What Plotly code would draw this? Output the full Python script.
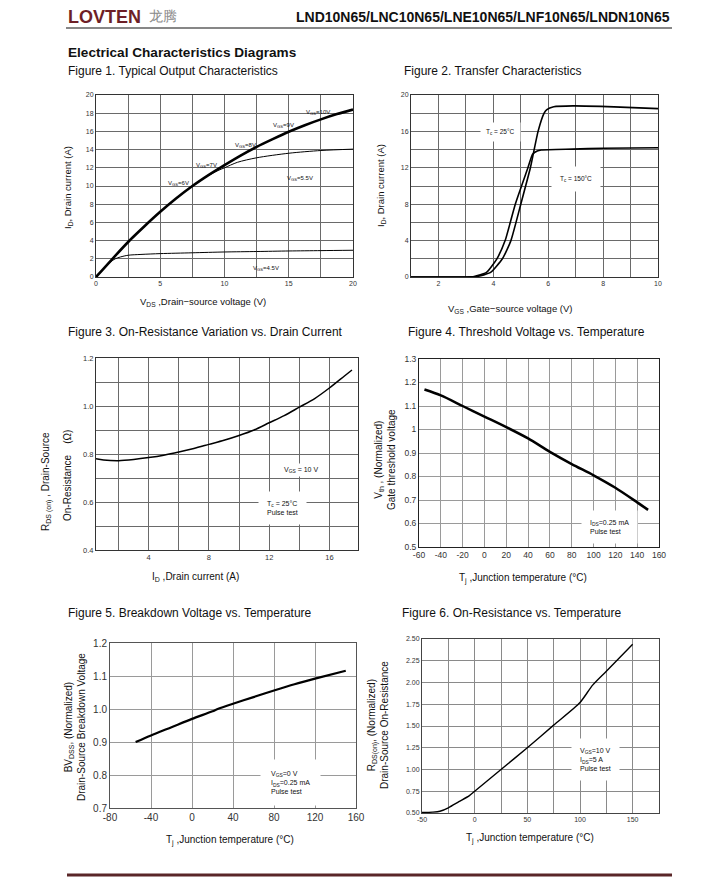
import plotly.graph_objects as go

W, H = 706, 873          # page body has an 8px margin; figure fills the rest of the window
OFF = 8                  # body margin offset (px)
FONT = "Liberation Sans, Arial, sans-serif"

# ---------------- data ----------------
# Figure 1: output characteristics
f1_vds_main = [0, 1.25, 2.5, 3.75, 5, 6.25, 7.5, 8.75, 10, 11.25, 12.5, 13.75, 15, 16.25, 17.5, 18.75, 20]
f1_id_main = [0, 1.95, 3.85, 5.55, 7.16, 8.65, 10.0, 11.2, 12.3, 13.35, 14.3, 15.15, 15.96, 16.68, 17.32, 17.9, 18.4]
f1_vds_55 = [0, 1.25, 2.5, 3.75, 5, 6.25, 7.5, 8.75, 9.5, 10, 11, 12.5, 15, 17.5, 20]
f1_id_55 = [0, 1.95, 3.85, 5.55, 7.16, 8.65, 10.0, 11.15, 11.7, 12.0, 12.6, 13.1, 13.6, 13.9, 14.05]
f1_vds_45 = [0, 1, 1.5, 1.9, 2.5, 3.5, 5, 7.5, 10, 12.5, 15, 17.5, 20]
f1_id_45 = [0, 1.5, 2.0, 2.2, 2.39, 2.48, 2.57, 2.66, 2.75, 2.8, 2.86, 2.9, 2.94]

# Figure 2: transfer characteristics
f2_vgs_25 = [1, 3, 3.4, 3.9, 4.33, 4.64, 5.0, 5.35, 5.63, 5.85, 5.95, 6.2, 6.9, 8.4, 10]
f2_id_25 = [0, 0, 0.05, 0.5, 2, 4, 8, 12, 16, 18, 18.4, 18.7, 18.8, 18.7, 18.5]
f2_vgs_150 = [1, 3, 3.3, 3.75, 4.13, 4.43, 4.8, 5.26, 5.43, 5.6, 5.75, 6.9, 8, 10]
f2_id_150 = [0, 0, 0.05, 0.5, 2, 4, 8, 12, 13.5, 13.85, 13.95, 14.05, 14.15, 14.2]

# Figure 3: on-resistance vs drain current
f3_id = [0.5, 1, 2, 3, 4, 5, 6, 7, 8, 9, 10, 11, 12, 13, 14, 15, 16, 17, 17.5]
f3_rds = [0.78, 0.775, 0.772, 0.777, 0.785, 0.795, 0.808, 0.823, 0.84, 0.857, 0.877,
          0.9, 0.93, 0.96, 0.995, 1.03, 1.075, 1.125, 1.15]

# Figure 4: threshold voltage vs temperature
f4_t = [-55, -40, -20, 0, 20, 40, 60, 80, 100, 120, 140, 150]
f4_v = [1.17, 1.145, 1.1, 1.055, 1.01, 0.962, 0.905, 0.853, 0.805, 0.752, 0.69, 0.658]

# Figure 5: breakdown voltage vs temperature
f5_t = [-55, -40, -20, 0, 20, 25, 40, 60, 80, 100, 120, 150]
f5_bv = [0.90, 0.92, 0.945, 0.97, 0.993, 1.0, 1.016, 1.036, 1.056, 1.075, 1.092, 1.116]

# Figure 6: on-resistance vs temperature
f6_t = [-50, -40, -33, -25, -15, -5, 0, 25, 50, 75, 100, 112, 125, 150]
f6_r = [0.505, 0.51, 0.52, 0.56, 0.63, 0.70, 0.75, 1.0, 1.25, 1.51, 1.77, 1.97, 2.13, 2.44]

# tick labels
f1_xt = [0, 5, 10, 15, 20]
f1_yt = list(range(0, 21, 2))
f2_xt = [2, 4, 6, 8, 10]
f2_yt = [0, 4, 8, 12, 16, 20]
f3_xt = [4, 8, 12, 16]
f3_yt = [0.4, 0.6, 0.8, 1.0, 1.2]
f3_ytl = ["0.4", "0.6", "0.8", "1.0", "1.2"]
f4_xt = list(range(-60, 161, 20))
f4_yt = [0.5, 0.6, 0.7, 0.8, 0.9, 1.0, 1.1, 1.2, 1.3]
f4_ytl = ["0.5", "0.6", "0.7", "0.8", "0.9", "1", "1.1", "1.2", "1.3"]
f5_xt = list(range(-80, 161, 40))
f5_yt = [0.7, 0.8, 0.9, 1.0, 1.1, 1.2]
f5_ytl = ["0.7", "0.8", "0.9", "1.0", "1.1", "1.2"]
f6_xt = [-50, 0, 50, 100, 150]
f6_yt = [0.5, 0.75, 1.0, 1.25, 1.5, 1.75, 2.0, 2.25, 2.5]
f6_ytl = ["0.50", "0.75", "1.00", "1.25", "1.50", "1.75", "2.00", "2.25", "2.50"]

# ---------------- layout helpers ----------------
def px_x(p):
    return (p - OFF) / W

def px_y(p):
    return 1 - (p - OFF) / H

fig = go.Figure()
layout = dict(width=W, height=H, margin=dict(l=0, r=0, t=0, b=0, autoexpand=False),
              paper_bgcolor="white", plot_bgcolor="white", showlegend=False,
              font=dict(family=FONT, color="#222"), template="none")

def add_axes(i, box, xr, yr, xt, yt, xtl=None, ytl=None, xminor=None, yminor=None,
             gcol="#777", fs=7, lcol="#333"):
    x0, y0, x1, y1 = box
    xa = dict(domain=[px_x(x0), px_x(x1)], range=xr, anchor=f"y{i}" if i > 1 else "y",
              tickmode="array", tickvals=xt, ticktext=xtl if xtl else [str(v) for v in xt],
              showgrid=True, gridcolor=gcol, gridwidth=1, zeroline=False, automargin=False,
              showline=True, linecolor=lcol, linewidth=1, mirror=True, ticks="",
              tickfont=dict(size=fs, family=FONT, color="#333"), fixedrange=True)
    ya = dict(domain=[px_y(y1), px_y(y0)], range=yr, anchor=f"x{i}" if i > 1 else "x",
              tickmode="array", tickvals=yt, ticktext=ytl if ytl else [str(v) for v in yt],
              showgrid=True, gridcolor=gcol, gridwidth=1, zeroline=False, automargin=False,
              showline=True, linecolor=lcol, linewidth=1, mirror=True, ticks="",
              tickfont=dict(size=fs, family=FONT, color="#333"), fixedrange=True)
    if xminor:
        xa["minor"] = dict(tick0=xminor[0], dtick=xminor[1], showgrid=True, gridcolor=gcol, gridwidth=1)
    if yminor:
        ya["minor"] = dict(tick0=yminor[0], dtick=yminor[1], showgrid=True, gridcolor=gcol, gridwidth=1)
    sfx = "" if i == 1 else str(i)
    layout["xaxis" + sfx] = xa
    layout["yaxis" + sfx] = ya

def add_line(i, x, y, width, smooth=0.6):
    sfx = "" if i == 1 else str(i)
    fig.add_trace(go.Scatter(x=x, y=y, mode="lines", xaxis="x" + sfx, yaxis="y" + sfx,
                             line=dict(color="black", width=width, shape="spline", smoothing=smooth),
                             hoverinfo="skip"))

add_axes(1, (96, 95, 353, 277), [0, 20], [0, 20], f1_xt, f1_yt, xminor=(0, 2.5), gcol="#6a6a6a", fs=7)
add_axes(2, (411, 95, 658, 277), [1, 10], [0, 20], f2_xt, f2_yt, xminor=(0, 1), yminor=(0, 2), gcol="#6a6a6a", fs=7)
add_axes(3, (96, 358, 358, 550), [0.5, 17.9], [0.4, 1.2], f3_xt, f3_yt, ytl=f3_ytl,
         xminor=(0, 2), yminor=(0, 0.1), gcol="#6a6a6a", fs=7.5)
add_axes(4, (419, 359, 659, 547), [-60, 160], [0.5, 1.3], f4_xt, f4_yt, ytl=f4_ytl, gcol="#9a9a9a", fs=8.5, lcol="#222")
add_axes(5, (110, 643, 356, 808), [-80, 160], [0.7, 1.2], f5_xt, f5_yt, ytl=f5_ytl, gcol="#9a9a9a", fs=10, lcol="#555")
add_axes(6, (422, 639, 659, 813), [-50, 175], [0.5, 2.5], f6_xt, f6_yt, ytl=f6_ytl,
         xminor=(0, 25), gcol="#8a8a8a", fs=7, lcol="#444")

add_line(1, f1_vds_45, f1_id_45, 1.0, 0.8)
add_line(1, f1_vds_55, f1_id_55, 1.0, 0.8)
add_line(1, f1_vds_main, f1_id_main, 2.6, 0.8)
add_line(2, f2_vgs_25, f2_id_25, 1.6, 0.5)
add_line(2, f2_vgs_150, f2_id_150, 1.6, 0.5)
add_line(3, f3_id, f3_rds, 1.5, 0.8)
add_line(4, f4_t, f4_v, 2.5, 0.8)
add_line(5, f5_t, f5_bv, 2.2, 0.8)
add_line(6, f6_t, f6_r, 1.4, 0.7)

ann = []

def text(x, y, s, size, bold=False, xanchor="left", yanchor="middle", angle=0, color="#111", align="left"):
    if bold:
        s = "<b>" + s + "</b>"
    ann.append(dict(xref="paper", yref="paper", x=px_x(x), y=px_y(y), text=s, showarrow=False,
                    xanchor=xanchor, yanchor=yanchor, textangle=angle, align=align,
                    font=dict(size=size, family=FONT, color=color)))

def dtext(i, x, y, s, size, bg=None, pad=1, align="left", xanchor="center"):
    sfx = "" if i == 1 else str(i)
    d = dict(xref="x" + sfx, yref="y" + sfx, x=x, y=y, text=s, showarrow=False, align=align,
             xanchor=xanchor, yanchor="middle", font=dict(size=size, family=FONT, color="#111"))
    if bg:
        d["bgcolor"] = bg
        d["borderpad"] = pad
    ann.append(d)

# header
text(66, 17, "LOVTEN", 18, bold=True, color="#6e1f26")
text(147, 16, "龙腾", 14, color="#8a8a8a")
text(672, 17, "LND10N65/LNC10N65/LNE10N65/LNF10N65/LNDN10N65", 14, bold=True, xanchor="right", color="#111")
text(66, 52, "Electrical Characteristics Diagrams", 13.6, bold=True)

# figure titles
text(66, 71, "Figure 1. Typical Output Characteristics", 12)
text(402, 71, "Figure 2. Transfer Characteristics", 12)
text(66, 332, "Figure 3. On-Resistance Variation vs. Drain Current", 12)
text(406, 332, "Figure 4. Threshold Voltage vs. Temperature", 12)
text(66, 613, "Figure 5. Breakdown Voltage vs. Temperature", 12)
text(400, 613, "Figure 6. On-Resistance vs. Temperature", 12)

# axis titles
text(203, 302, "V<sub>DS</sub> ,Drain−source voltage (V)", 9.5, xanchor="center")
text(68, 188, "I<sub>D</sub>, Drain current (A)", 9.5, xanchor="center", angle=-90)
text(510, 309, "V<sub>GS</sub> ,Gate−source voltage (V)", 9.5, xanchor="center")
text(381, 185, "I<sub>D</sub>, Drain current (A)", 9.5, xanchor="center", angle=-90)
text(195, 577, "I<sub>D</sub> ,Drain current (A)", 10, xanchor="center")
text(47, 482, "R<sub>DS (on)</sub> , Drain-Source", 10, xanchor="center", angle=-90)
text(67, 476, "On-Resistance    (Ω)", 10, xanchor="center", angle=-90)
text(523, 578, "T<sub>j</sub> ,Junction temperature (°C)", 10, xanchor="center")
text(385, 460, "V<sub>th</sub> , (Normalized)<br>Gate threshold voltage", 10, xanchor="center", angle=-90, align="center")
text(230, 840, "T<sub>j</sub> ,Junction temperature (°C)", 10, xanchor="center")
text(75, 727, "BV<sub>DSS</sub>, (Normalized)<br>Drain-Source Breakdown Voltage", 10, xanchor="center", angle=-90, align="center")
text(530, 838, "T<sub>j</sub> ,Junction temperature (°C)", 10, xanchor="center")
text(378, 725, "R<sub>DS(on)</sub>, (Normalized)<br>Drain-Source On-Resistance", 10, xanchor="center", angle=-90, align="center")

# in-plot labels
dtext(1, 17.3, 18.1, "V<sub>GS</sub>=10V", 6)
dtext(1, 14.6, 16.7, "V<sub>GS</sub>=9V", 6)
dtext(1, 11.6, 14.4, "V<sub>GS</sub>=8V", 6)
dtext(1, 8.6, 12.2, "V<sub>GS</sub>=7V", 6)
dtext(1, 6.4, 10.3, "V<sub>GS</sub>=6V", 6)
dtext(1, 15.9, 10.8, "V<sub>GS</sub>=5.5V", 6)
dtext(1, 13.2, 0.9, "V<sub>GS</sub>=4.5V", 6)
dtext(2, 4.25, 15.9, "T<sub>c</sub> = 25°C", 6.5, bg="white", pad=5)
dtext(2, 7.0, 10.8, "T<sub>c</sub> = 150°C", 6.5, bg="white", pad=8)
dtext(3, 14.1, 0.733, "V<sub>GS</sub> = 10 V", 7, bg="white", pad=2)
dtext(3, 12.9, 0.575, "T<sub>c</sub> = 25°C<br>Pulse test", 7, bg="white", pad=8)
dtext(4, 115, 0.585, "I<sub>DS</sub>=0.25 mA<br>Pulse test", 7, bg="white", pad=8)
dtext(5, 96, 0.776, "V<sub>GS</sub>=0 V<br>I<sub>DS</sub>=0.25 mA<br>Pulse test", 7, bg="white", pad=10)
dtext(6, 115, 1.11, "V<sub>GS</sub>=10 V<br>I<sub>DS</sub>=5 A<br>Pulse test", 7, bg="white", pad=8)

layout["annotations"] = ann
layout["shapes"] = [
    dict(type="line", xref="paper", yref="paper", x0=px_x(66), x1=px_x(672), y0=px_y(28), y1=px_y(28),
         line=dict(color="#111", width=1.2)),
    dict(type="line", xref="paper", yref="paper", x0=px_x(67), x1=px_x(672), y0=px_y(875), y1=px_y(875),
         line=dict(color="#5a2628", width=3)),
]
fig.update_layout(**layout)
fig.write_html("out.html")
